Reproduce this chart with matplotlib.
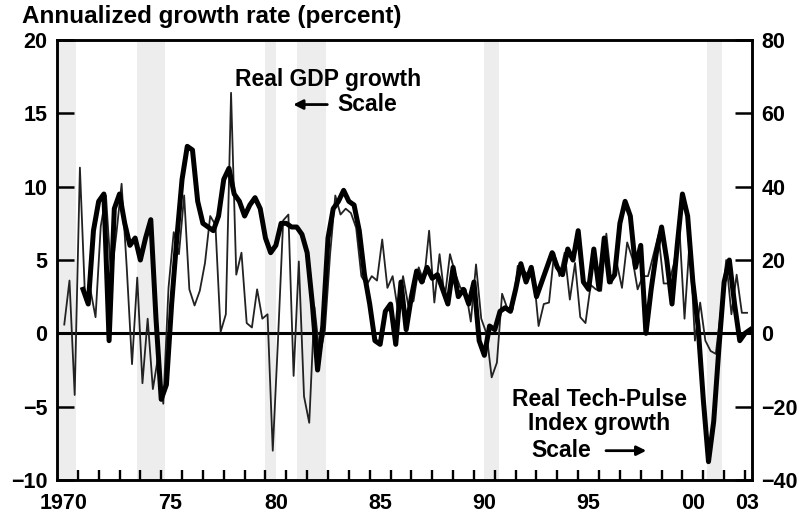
import numpy as np
import matplotlib
matplotlib.use("Agg")
import matplotlib.pyplot as plt

plt.rcParams['font.family'] = ['Liberation Sans', 'DejaVu Sans']
plt.rcParams['font.weight'] = 'bold'

# real GDP growth, quarterly, 1970Q2 - 2003Q1 (left scale, percent)
gdp = [0.6, 3.6, -4.2,
       11.3, 2.3, 3.0, 1.1,
       7.3, 9.4, 3.8, 6.8,
       10.2, 4.4, -2.1, 3.8,
       -3.4, 1.0, -3.8, -1.6,
       -4.8, 3.1, 6.9, 5.4,
       9.4, 3.0, 1.9, 2.9,
       4.8, 8.0, 7.4, 0.1,
       1.3, 16.4, 4.0, 5.5,
       0.7, 0.4, 3.0, 1.0,
       1.3, -8.0, -0.5, 7.7,
       8.1, -2.9, 4.9, -4.3,
       -6.1, 1.8, -1.5, 0.2,
       5.4, 9.4, 8.1, 8.5,
       8.2, 7.2, 3.9, 3.3,
       3.9, 3.6, 6.4, 3.1,
       3.9, 1.6, 3.9, 1.9,
       2.2, 4.5, 3.5, 7.0,
       2.1, 5.4, 2.4, 5.4,
       4.1, 3.1, 3.0, 0.8,
       4.7, 1.0, 0.0, -3.0,
       -2.0, 2.7, 1.7, 1.6,
       4.6, 4.3, 4.0, 4.2,
       0.5, 2.0, 2.1, 5.5,
       3.9, 5.5, 2.3, 4.8,
       1.1, 0.7, 3.3, 3.0,
       2.9, 6.8, 3.4, 4.8,
       3.1, 6.2, 5.1, 3.0,
       3.9, 3.9, 5.3, 6.7,
       3.4, 3.4, 4.8, 7.3,
       1.0, 6.4, -0.5, 2.1,
       -0.5, -1.2, -1.4, 1.6,
       5.0, 1.3, 4.0, 1.4,
       1.4]

# real Tech-Pulse index growth, 1971.25 onward every quarter (right scale)
tech = [12, 8, 28,
        36, 38, -2, 34,
        38, 30, 24, 26,
        20, 26, 31, 4,
        -18, -14, 8, 26,
        42, 51, 50, 36,
        30, 29, 28, 32,
        42, 45, 38, 36,
        32, 35, 37, 34,
        26, 22, 24, 30,
        30, 29, 29, 27,
        22, 8, -10, 2,
        26, 34, 36, 39,
        36, 35, 28, 16,
        8, -2, -3, 6,
        8, -3, 14, 1,
        10, 17, 14, 18,
        15, 16, 12, 8,
        18, 10, 12, 8,
        14, -2, -6, 2,
        1, 6, 7, 6,
        12, 19, 14, 18,
        10, 14, 18, 22,
        18, 16, 23, 20,
        28, 14, 12, 23,
        12, 26, 14, 16,
        30, 36, 32, 18,
        24, 0, 12, 22,
        29, 20, 8, 24,
        38, 32, 14, 2,
        -18, -35, -24, -4,
        14, 20, 8, -2,
        0, 1]

recessions = [(1970.0, 1970.9), (1973.85, 1975.2), (1980.0, 1980.5),
              (1981.5, 1982.9), (1990.5, 1991.2), (2001.2, 2001.9)]

year_labels = ['1970', '75', '80', '85', '90', '95', '00', '03']
label_pos = [1970.3, 1975.45, 1980.5, 1985.5, 1990.5, 1995.5, 2000.5, 2003.1]
year_ticks = list(range(1971, 2004))

gdp_x = 1970.35 + 0.25 * np.arange(len(gdp))
tech_x = 1971.25 + 0.25 * np.arange(len(tech))

fig = plt.figure(figsize=(7.99, 5.13), dpi=100)
ax = fig.add_axes([0.0713, 0.0643, 0.8697, 0.8577])

for a, b in recessions:
    ax.axvspan(a, b, color='#ededed', lw=0, zorder=0)

ax.axhline(0, color='black', lw=2.2, zorder=3)
ax.plot(gdp_x, gdp, color='#222222', lw=1.3, zorder=4)

ax.set_xlim(1970, 2003.33)
ax.set_ylim(-10, 20)
ax.set_yticks([-10, -5, 0, 5, 10, 15, 20])
ax.tick_params(axis='y', direction='in', length=12, width=1.8, labelsize=15.5, pad=7)

# year labels sit mid-year with no mark; the yearly marks are drawn below
ax.set_xticks(label_pos, labels=year_labels)
ax.tick_params(axis='x', length=0, labelsize=15.5, pad=9)
ax.vlines(year_ticks, 0, 0.022, transform=ax.get_xaxis_transform(),
          color='black', lw=1.7, zorder=5, clip_on=False)

ax2 = ax.twinx()
ax2.plot(tech_x, tech, color='black', lw=3.6, solid_joinstyle='round', zorder=4)
ax2.set_ylim(-40, 80)
ax2.set_yticks([-40, -20, 0, 20, 40, 60, 80])
ax2.tick_params(axis='y', direction='in', length=12, width=1.8, labelsize=15.5, pad=7)

for a in (ax, ax2):
    for s in a.spines.values():
        s.set_linewidth(1.8)

fig.text(0.028, 0.967, 'Annualized growth rate (percent)', fontsize=17.5,
         fontweight='bold', ha='left', va='center')

ax.text(1978.55, 17.3, 'Real GDP growth', fontsize=16.5, ha='left', va='center')
ax.text(1983.45, 15.6, 'Scale', fontsize=16.5, ha='left', va='center')
ax.annotate('', xy=(1981.2, 15.6), xytext=(1983.1, 15.6),
            arrowprops=dict(arrowstyle='-|>', color='black', lw=2, mutation_scale=14))

ax.text(1996.0, -5.35, 'Real Tech-Pulse\nIndex growth', fontsize=16.5, ha='center',
        va='center', linespacing=1.05)
ax.text(1994.2, -8.0, 'Scale', fontsize=16.5, ha='center', va='center')
ax.annotate('', xy=(1998.4, -8.0), xytext=(1996.2, -8.0),
            arrowprops=dict(arrowstyle='-|>', color='black', lw=2, mutation_scale=14))

fig.savefig('out.png', dpi=100)
